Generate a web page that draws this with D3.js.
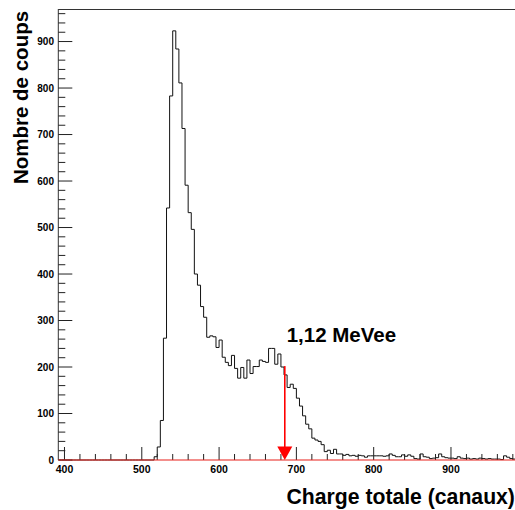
<!DOCTYPE html>
<html><head><meta charset="utf-8">
<script src="https://cdn.jsdelivr.net/npm/d3@7"></script>
<style>
html,body{margin:0;padding:0;background:#fff;}
svg{display:block;}
text{font-family:"Liberation Sans",Arial,Helvetica,sans-serif;font-weight:bold;fill:#000;}
</style></head>
<body>
<script>
// ---- data ----
const binStart = 392;      // first bin low edge (channels)
const binWidth = 4;        // channels per bin
const counts = [
  0,0,0,0,0,0,0,0,0,0,0,0,0,0,0,0,0,0,0,0,0,0,0,0,0,0,0,0,0,0, // 392-511
  0,7,28,85,262,542,783,923,884,811,713,591,532,496,            // 512-567
  400,376,330,307,264,267,265,242,258,221,210,203,225,197,176,199,176, // 568-635
  215,186,201,201,215,212,210,240,240,206,228,200,               // 636-683
  183,156,163,154,133,116,95,77,67,47,43,40,33,18,               // 684-739
  21,14,23,13,13,10,12,9,10,8,10,9,6,9,9,                         // 740-799
  9,9,9,8,9,13,10,7,7,11,8,11,8,3,2,                              // 800-859
  13,7,6,3,4,5,13,7,5,4,4,3,7,4,3,4,2,3,2,4,3,2,3,2,2,2,1,9,6,3,2,4,3 // 860-991
];
const xTicksMajor = [400, 500, 600, 700, 800, 900];
const yTicksMajor = [0, 100, 200, 300, 400, 500, 600, 700, 800, 900];
const xLabel = "Charge totale (canaux)";
const yLabel = "Nombre de coups";
const annotText = "1,12 MeVee";
const arrowChannel = 685;
const arrowTopCount = 202;

// ---- layout ----
const W = 515, H = 510;
const padL = 58.3, padT = 9, baseY = 460;
const xMin = 392, xMax = 1000;
const pxPerUnit = 0.773;
const padR = padL + (xMax - xMin) * pxPerUnit;

const x = d3.scaleLinear().domain([xMin, xMax]).range([padL, padR]);
const y = d3.scaleLinear().domain([0, 970]).range([baseY, padT]);

const svg = d3.select("body").append("svg").attr("width", W).attr("height", H);

svg.append("defs").append("clipPath").attr("id", "clip")
  .append("rect").attr("x", padL).attr("y", padT).attr("width", padR - padL).attr("height", baseY - padT + 1);

// histogram step path
const pts = [];
counts.forEach((c, i) => {
  const lo = binStart + i * binWidth, hi = lo + binWidth;
  pts.push([x(lo), y(c)]);
  pts.push([x(hi), y(c)]);
});
svg.append("path")
  .attr("clip-path", "url(#clip)")
  .attr("d", d3.line()(pts))
  .attr("fill", "none").attr("stroke", "#111").attr("stroke-width", 1);

// frame (top and left)
svg.append("line").attr("x1", padL).attr("x2", padR).attr("y1", padT + 0.5).attr("y2", padT + 0.5)
  .attr("stroke", "#333").attr("stroke-width", 1);
svg.append("line").attr("x1", padL).attr("x2", padL).attr("y1", padT).attr("y2", baseY)
  .attr("stroke", "#333").attr("stroke-width", 1);

// y ticks (pointing inward)
const yMinor = d3.range(0, 970, 20);
const gy = svg.append("g");
yMinor.forEach(v => {
  const major = v % 100 === 0;
  gy.append("line").attr("x1", padL).attr("x2", padL + (major ? 14 : 7))
    .attr("y1", y(v)).attr("y2", y(v)).attr("stroke", "#222").attr("stroke-width", 1);
});
yTicksMajor.forEach(v => {
  gy.append("text").attr("x", 54).attr("y", y(v)).attr("dy", "0.35em")
    .attr("text-anchor", "end").attr("font-size", 10).text(v);
});

// x ticks (pointing up)
const xMinor = d3.range(400, 1000, 20);
const gx = svg.append("g");
xMinor.forEach(v => {
  const major = v % 100 === 0;
  gx.append("line").attr("x1", x(v)).attr("x2", x(v))
    .attr("y1", baseY).attr("y2", baseY - (major ? 13 : 6))
    .attr("stroke", "#222").attr("stroke-width", 1);
});
xTicksMajor.forEach(v => {
  gx.append("text").attr("x", x(v)).attr("y", 472.5)
    .attr("text-anchor", "middle").attr("font-size", 10.5).text(v);
});

// red baseline at y = 0
svg.append("line").attr("x1", padL).attr("x2", padR).attr("y1", y(0)).attr("y2", y(0))
  .attr("stroke", "#e8201a").attr("stroke-width", 1.2);

// arrow
const ax = x(arrowChannel);
svg.append("line").attr("x1", ax).attr("x2", ax).attr("y1", y(arrowTopCount)).attr("y2", y(0) - 12)
  .attr("stroke", "#ff0000").attr("stroke-width", 1.6);
svg.append("path")
  .attr("d", `M${ax - 7.5},${y(0) - 13.5} L${ax + 7.5},${y(0) - 13.5} L${ax},${y(0)} Z`)
  .attr("fill", "#ff0000");

// annotation
svg.append("text").attr("x", 286.7).attr("y", 341.7).attr("font-size", 20.5).text(annotText);

// axis titles
svg.append("text").attr("x", 286.5).attr("y", 503.5).attr("font-size", 21.2).text(xLabel);
svg.append("text").attr("transform", "translate(27.5,97.5) rotate(-90)")
  .attr("text-anchor", "middle").attr("font-size", 20.5).text(yLabel);
</script>
</body></html>
